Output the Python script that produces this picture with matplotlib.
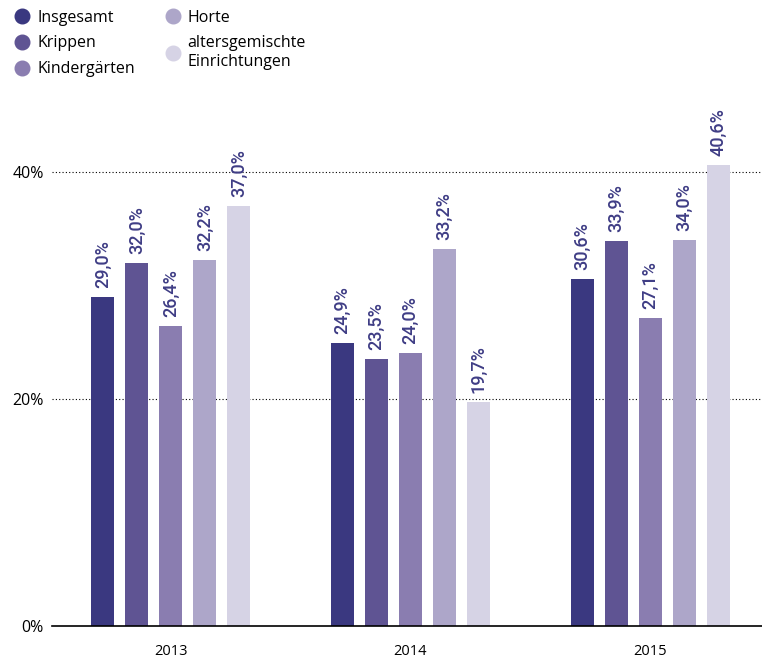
import matplotlib.pyplot as plt
from matplotlib.lines import Line2D
import numpy as np

# data
years = ["2013", "2014", "2015"]
series = ["Insgesamt", "Krippen", "Kindergärten", "Horte", "altersgemischte\nEinrichtungen"]
values = {
    "Insgesamt": [29.0, 24.9, 30.6],
    "Krippen": [32.0, 23.5, 33.9],
    "Kindergärten": [26.4, 24.0, 27.1],
    "Horte": [32.2, 33.2, 34.0],
    "altersgemischte\nEinrichtungen": [37.0, 19.7, 40.6],
}
colors = ["#3a3880", "#5f5493", "#8a7db0", "#ada6c9", "#d6d3e5"]
label_color = "#3f3d85"

plt.rcParams['font.family'] = ['Open Sans', 'DejaVu Sans']

fig = plt.figure(figsize=(7.62, 6.59), dpi=100)
ax = fig.add_axes([0.0682, 0.05, 0.9318, 0.7755])

x = np.arange(len(years))
bar_w = 0.096
step = 0.1417
for i, name in enumerate(series):
    xs = x + (i - 2) * step
    ax.bar(xs, values[name], width=bar_w, color=colors[i], zorder=2)
    for xi, v in zip(xs, values[name]):
        ax.annotate(f"{v:.1f}%".replace(".", ","), (xi, v), xytext=(0, 6.5),
                    textcoords="offset points", rotation=90, ha="center", va="bottom",
                    fontsize=13, color=label_color, fontweight="medium",
                    family=["Roboto", "DejaVu Sans"])

ax.set_xlim(-0.496, 2.467)
ax.set_ylim(0, 45)
ax.set_xticks(x)
ax.set_xticklabels(years, fontsize=10.5)
ax.set_yticks([0, 20, 40])
ax.set_yticklabels(["0%", "20%", "40%"], fontsize=11.5)
ax.tick_params(length=0, pad=6)
ax.tick_params(axis="x", pad=13)
for y in [20, 40]:
    ax.axhline(y, color="black", linestyle=(0, (1, 2)), linewidth=0.8, zorder=1)
for s in ["top", "right", "left"]:
    ax.spines[s].set_visible(False)
ax.spines["bottom"].set_linewidth(1.2)

handles = [Line2D([], [], marker="o", linestyle="", markersize=10.5, color=c) for c in colors]
fig.legend(handles, series, loc="upper left", bbox_to_anchor=(0.004, 1.0), ncol=2,
           frameon=False, fontsize=11.5, handletextpad=0.35, columnspacing=1.75,
           labelspacing=0.62, handlelength=1.2, borderaxespad=0.2)

fig.savefig("out.png", dpi=100)
